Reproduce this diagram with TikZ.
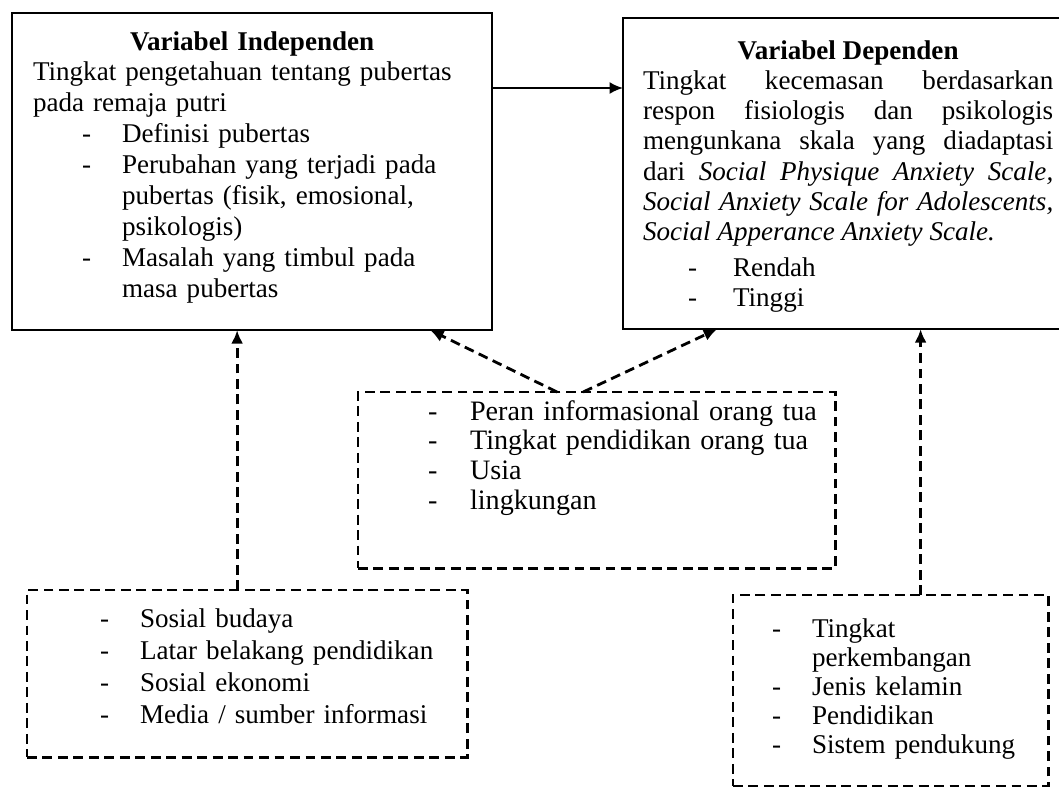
\documentclass[tikz,border=0pt]{standalone}
\usepackage{fontspec}
\setmainfont{Liberation Serif}
\usetikzlibrary{arrows.meta}

\newlength\dashx
\newlength\teksx
\newcommand{\butir}[1]{\noindent\hangindent=\teksx\hangafter=1
  \hspace*{\dashx}\makebox[\dimexpr\teksx-\dashx\relax][l]{-}#1\par}

\begin{document}
\begin{tikzpicture}[x=0.01cm,y=-0.01cm,>={Latex[length=3.8pt,width=3.4pt]}]

\tikzset{
        kotak/.style={draw,line width=0.6pt,anchor=north west,inner ysep=0pt,inner xsep=0.2cm,outer sep=0pt,align=left},
        putus/.style={line width=0.8pt,dash pattern=on 2.8pt off 1.6pt},
        huruf/.style 2 args={font=\fontsize{#1}{#2}\selectfont},
        daftar/.style 2 args={execute at begin node={\setlength\dashx{#1}\setlength\teksx{#2}}}
}

\useasboundingbox (0,0) rectangle (1059,787);

\node[kotak,huruf={7.7}{8.8pt},daftar={0.49cm}{0.89cm},inner xsep=0.21cm,text width=4.38cm,text height=0.37cm,text depth=2.80cm] (indep) at (12,13) {%
{\centering\bfseries Variabel Independen\par}
Tingkat pengetahuan tentang pubertas\\
pada remaja putri\par
\butir{Definisi pubertas}
\butir{Perubahan yang terjadi pada\newline pubertas (fisik, emosional,\newline psikologis)}
\butir{Masalah yang timbul pada\newline masa pubertas}};

\node[kotak,huruf={7.7}{8.6pt},daftar={0.45cm}{0.90cm},align=justify,text width=4.10cm,text height=0.41cm,text depth=2.70cm] (dep) at (623,18) {%
{\centering\bfseries Variabel Dependen\par}
Tingkat kecemasan berdasarkan\linebreak
respon fisiologis dan psikologis\linebreak
mengunkana skala yang diadaptasi\linebreak
dari \textit{Social Physique Anxiety Scale,}\linebreak
\textit{Social Anxiety Scale for Adolescents,}\linebreak
\textit{Social Apperance Anxiety Scale.}\par
\vspace{0.06cm}
\butir{Rendah}
\butir{Tinggi}};

\node[kotak,putus,huruf={8}{8.5pt},daftar={0.60cm}{1.02cm},inner xsep=0.1cm,text width=4.57cm,text height=0.28cm,text depth=1.48cm] (faktor) at (358,392) {%
\butir{Peran informasional orang tua}
\butir{Tingkat pendidikan orang tua}
\butir{Usia}
\butir{lingkungan}};

\node[kotak,putus,huruf={7.7}{9.1pt},daftar={0.53cm}{0.93cm},text width=4.00cm,text height=0.37cm,text depth=1.30cm] (kiri) at (27,590) {%
\butir{Sosial budaya}
\butir{Latar belakang pendidikan}
\butir{Sosial ekonomi}
\butir{Media / sumber informasi}};

\node[kotak,putus,huruf={7.7}{8.3pt},daftar={0.19cm}{0.59cm},text width=2.75cm,text height=0.42cm,text depth=1.49cm] (kanan) at (733,595) {%
\butir{Tingkat\newline perkembangan}
\butir{Jenis kelamin}
\butir{Pendidikan}
\butir{Sistem pendukung}};

\coordinate (panah) at (0,88);
\coordinate (k1) at ([xshift=-0.10cm]kiri.north);
\coordinate (k2) at ([xshift=0.30cm]kanan.north);

\draw[->,line width=0.6pt] (indep.east |- panah) -- (dep.west |- panah);
\draw[->,putus] ([xshift=-0.395cm]faktor.north) -- ([xshift=1.78cm]indep.south);
\draw[->,putus] ([xshift=-0.135cm]faktor.north) -- ([xshift=-1.31cm]dep.south);
\draw[->,putus] (k1) -- (k1 |- indep.south);
\draw[->,putus] (k2) -- (k2 |- dep.south);

\end{tikzpicture}
\end{document}
